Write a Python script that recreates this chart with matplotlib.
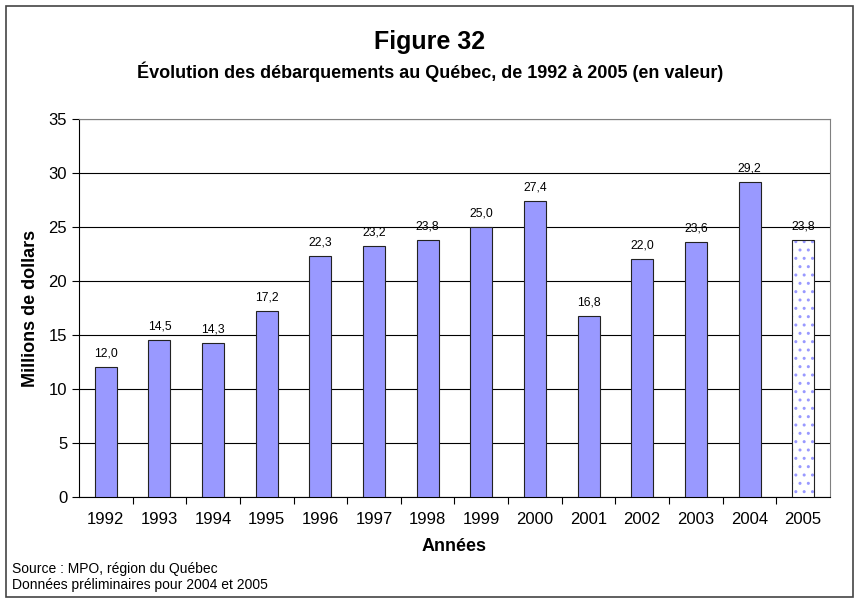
import matplotlib.pyplot as plt
from matplotlib.patches import Rectangle

plt.rcParams['font.family'] = ['Liberation Sans', 'DejaVu Sans']

annees = ['1992', '1993', '1994', '1995', '1996', '1997', '1998',
          '1999', '2000', '2001', '2002', '2003', '2004', '2005']
valeurs = [12.0, 14.5, 14.3, 17.2, 22.3, 23.2, 23.8,
           25.0, 27.4, 16.8, 22.0, 23.6, 29.2, 23.8]
etiquettes = ['12,0', '14,5', '14,3', '17,2', '22,3', '23,2', '23,8',
              '25,0', '27,4', '16,8', '22,0', '23,6', '29,2', '23,8']

fig = plt.figure(figsize=(8.6, 6.02), dpi=100)
ax = fig.add_axes([79 / 860, 1 - 497 / 602, 751 / 860, 378 / 602])

x = list(range(len(annees)))
larg = 0.41
# années complètes
ax.bar(x[:-1], valeurs[:-1], width=larg, color='#9999FF',
       edgecolor='#222222', linewidth=0.8, zorder=3)
# 2005 : données préliminaires, barre hachurée
ax.bar(x[-1], valeurs[-1], width=larg, color='white', edgecolor='#9999FF',
       hatch='..', linewidth=0, zorder=3)
ax.bar(x[-1], valeurs[-1], width=larg, fill=False, edgecolor='#222222',
       linewidth=0.8, zorder=4)

for xi, v, lab in zip(x, valeurs, etiquettes):
    ax.text(xi, v + 0.7, lab, ha='center', va='bottom', fontsize=8.7)

ax.set_xlim(-0.5, len(annees) - 0.5)
ax.set_ylim(0, 35)
ax.set_yticks(range(0, 36, 5))
ax.set_xticks(x)
ax.set_xticklabels(annees, fontsize=12)
ax.set_xticks([i + 0.5 for i in x[:-1]], minor=True)
ax.tick_params(axis='x', which='major', length=0, pad=11)
ax.tick_params(axis='x', which='minor', length=5, direction='out', width=0.8)
ax.tick_params(axis='y', length=5, direction='out', width=0.8, labelsize=12)
ax.yaxis.grid(True, color='black', linewidth=0.8, zorder=0)
ax.set_axisbelow(True)

for s in ['top', 'right']:
    ax.spines[s].set_color('#808080')
ax.spines['left'].set_color('black')
ax.spines['bottom'].set_color('black')

ax.set_ylabel('Millions de dollars', fontsize=13, fontweight='bold', labelpad=7)
ax.set_xlabel('Années', fontsize=13, fontweight='bold', labelpad=8)

fig.text(0.5, 1 - 42 / 602, 'Figure 32', ha='center', va='center',
         fontsize=18, fontweight='bold')
fig.text(0.5, 1 - 72 / 602,
         'Évolution des débarquements au Québec, de 1992 à 2005 (en valeur)',
         ha='center', va='center', fontsize=13, fontweight='bold')
fig.text(12 / 860, 1 - 569 / 602, 'Source : MPO, région du Québec',
         ha='left', va='center', fontsize=10)
fig.text(12 / 860, 1 - 585 / 602, 'Données préliminaires pour 2004 et 2005',
         ha='left', va='center', fontsize=10)

fig.patches.append(Rectangle((6 / 860, 1 - 597 / 602), 847 / 860, 591 / 602,
                             transform=fig.transFigure, fill=False,
                             edgecolor='#444444', linewidth=1.2))

fig.savefig('out.png', dpi=100)
